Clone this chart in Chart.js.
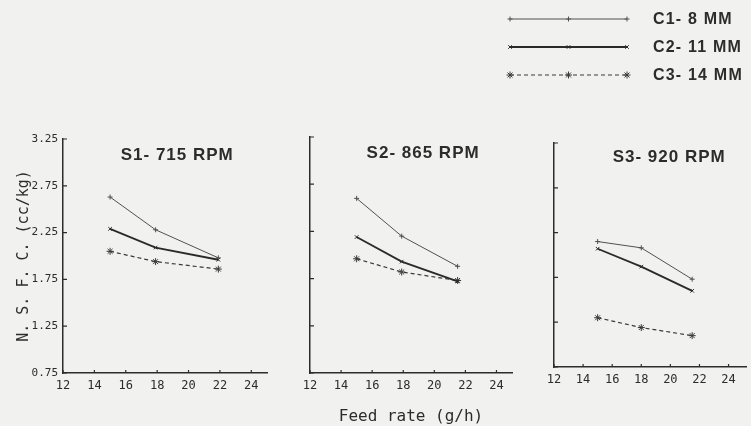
<!DOCTYPE html>
<html>
<head>
<meta charset="utf-8">
<script src="https://cdn.jsdelivr.net/npm/chart.js@4.4.1/dist/chart.umd.min.js"></script>
<style>
  html, body { margin: 0; padding: 0; background: #f1f1ef; }
  #wrap { position: relative; width: 751px; height: 426px; overflow: hidden; background: #f1f1ef; }
  #wrap canvas { position: absolute; top: 0; }
</style>
</head>
<body>
<div id="wrap">
  <canvas id="s1" width="290" height="426" style="left:0"></canvas>
  <canvas id="s2" width="230" height="426" style="left:290px"></canvas>
  <canvas id="s3" width="251" height="426" style="left:500px"></canvas>
</div>
<script>
/* ---- data ---- */
const xTicks = [12, 14, 16, 18, 20, 22, 24];
const yTicks = [0.75, 1.25, 1.75, 2.25, 2.75, 3.25];
const seriesNames = ['C1- 8 MM', 'C2- 11 MM', 'C3- 14 MM'];
const panelTitles = ['S1- 715 RPM', 'S2- 865 RPM', 'S3- 920 RPM'];

// feed rate (g/h) per panel
const s1Feed = [15, 17.9, 21.9];
const s2Feed = [15, 17.9, 21.5];
const s3Feed = [15, 18, 21.5];

// N.S.F.C. (cc/kg)
const s1C1 = [2.63, 2.28, 1.98];
const s1C2 = [2.29, 2.09, 1.96];
const s1C3 = [2.05, 1.94, 1.86];

const s2C1 = [2.60, 2.20, 1.88];
const s2C2 = [2.19, 1.93, 1.72];
const s2C3 = [1.96, 1.82, 1.73];

const s3C1 = [2.15, 2.08, 1.73];
const s3C2 = [2.07, 1.87, 1.60];
const s3C3 = [1.30, 1.19, 1.10];

const INK = '#2c2c2c';
const MONO = "'DejaVu Sans Mono', monospace";
const SANS = "'Liberation Sans', Arial, sans-serif";

// line look for C1, C2, C3
const seriesStyle = [
  { borderColor: '#505050', borderWidth: 1,   borderDash: [],     pointStyle: 'cross',    pointRadius: 2.5 },
  { borderColor: '#2a2a2a', borderWidth: 1.8, borderDash: [],     pointStyle: 'crossRot', pointRadius: 2.5 },
  { borderColor: '#3a3a3a', borderWidth: 1.2, borderDash: [4, 3], pointStyle: 'star',     pointRadius: 3.5 }
];

// small ticks pointing into the plot
const inwardTicks = {
  id: 'inwardTicks',
  afterDraw(chart) {
    const { ctx, chartArea: a } = chart;
    const x = chart.scales.x, y = chart.scales.y;
    ctx.save();
    ctx.strokeStyle = INK;
    ctx.lineWidth = 1.2;
    ctx.beginPath();
    x.ticks.forEach(t => {
      const px = x.getPixelForValue(t.value);
      ctx.moveTo(px, a.bottom);
      ctx.lineTo(px, a.bottom - 3);
    });
    y.ticks.forEach(t => {
      const py = y.getPixelForValue(t.value);
      ctx.moveTo(a.left, py);
      ctx.lineTo(a.left + 4, py);
    });
    ctx.stroke();
    ctx.restore();
  }
};

// panel heading inside the plot area
const panelHeading = {
  id: 'panelHeading',
  afterDraw(chart, args, opts) {
    if (!opts.text) return;
    const { ctx, chartArea: a } = chart;
    ctx.save();
    ctx.font = 'bold 17px ' + SANS;
    ctx.letterSpacing = '1px';
    ctx.fillStyle = INK;
    ctx.textAlign = 'center';
    ctx.textBaseline = 'middle';
    ctx.fillText(opts.text, a.left + opts.fx * (a.right - a.left), a.top + opts.dy);
    ctx.restore();
  }
};

// line-sample legend drawn in the top right corner
const lineLegend = {
  id: 'lineLegend',
  afterDraw(chart, args, opts) {
    if (!opts.show) return;
    const ctx = chart.ctx;
    chart.data.datasets.forEach((ds, i) => {
      const y = opts.top + i * opts.rowGap;
      ctx.save();
      ctx.strokeStyle = ds.borderColor;
      ctx.fillStyle = ds.borderColor;
      ctx.lineWidth = ds.borderWidth;
      ctx.setLineDash(ds.borderDash);
      ctx.beginPath();
      ctx.moveTo(opts.x0, y);
      ctx.lineTo(opts.x1, y);
      ctx.stroke();
      ctx.setLineDash([]);
      ctx.lineWidth = 1;
      [opts.x0, (opts.x0 + opts.x1) / 2, opts.x1].forEach(px => {
        Chart.helpers.drawPoint(ctx, { pointStyle: ds.pointStyle, radius: ds.pointRadius, rotation: 0, borderWidth: 1 }, px, y);
      });
      ctx.font = 'bold 16px ' + SANS;
      ctx.letterSpacing = '1.2px';
      ctx.fillStyle = INK;
      ctx.textAlign = 'left';
      ctx.textBaseline = 'middle';
      ctx.fillText(ds.label, opts.textX, y + 1);
      ctx.restore();
    });
  }
};

function makePanel(id, feed, c1, c2, c3, cfg) {
  const datasets = [c1, c2, c3].map((vals, i) => ({
    label: seriesNames[i],
    data: feed.map((f, j) => ({ x: f, y: vals[j] })),
    borderColor: seriesStyle[i].borderColor,
    backgroundColor: seriesStyle[i].borderColor,
    borderWidth: seriesStyle[i].borderWidth,
    borderDash: seriesStyle[i].borderDash,
    pointStyle: seriesStyle[i].pointStyle,
    pointRadius: seriesStyle[i].pointRadius,
    pointBorderWidth: 1,
    tension: 0
  }));

  return new Chart(document.getElementById(id), {
    type: 'line',
    data: { datasets },
    plugins: [inwardTicks, panelHeading, lineLegend],
    options: {
      responsive: false,
      animation: false,
      events: [],
      layout: { padding: cfg.padding },
      plugins: {
        legend: { display: false },
        tooltip: { enabled: false },
        panelHeading: { text: cfg.title, fx: cfg.titleFx, dy: cfg.titleDy },
        lineLegend: cfg.legend || { show: false }
      },
      scales: {
        x: {
          type: 'linear',
          min: 12,
          max: cfg.xMax,
          afterBuildTicks: s => { s.ticks = xTicks.map(v => ({ value: v })); },
          afterFit: s => { s.height = cfg.xHeight; },
          grid: { display: false, drawTicks: false, tickLength: 0 },
          border: { display: true, color: INK, width: 1.5 },
          ticks: { color: INK, padding: 6, maxRotation: 0, font: { family: MONO, size: 12 } },
          title: {
            display: !!cfg.xTitle,
            text: cfg.xTitle || '',
            color: INK,
            padding: 0,
            font: { family: MONO, size: 16 }
          }
        },
        y: {
          type: 'linear',
          min: 0.75,
          max: 3.25,
          afterBuildTicks: s => { s.ticks = yTicks.map(v => ({ value: v })); },
          afterFit: s => { s.width = cfg.yWidth; },
          grid: { display: false, drawTicks: false, tickLength: 0 },
          border: { display: true, color: INK, width: 1.5 },
          ticks: {
            display: cfg.yLabels,
            color: INK,
            padding: 5,
            font: { family: MONO, size: 11 },
            callback: v => v.toFixed(2)
          },
          title: {
            display: !!cfg.yTitle,
            text: cfg.yTitle || '',
            color: INK,
            padding: { top: 15, bottom: 0 },
            font: { family: MONO, size: 15 }
          }
        }
      }
    }
  });
}

makePanel('s1', s1Feed, s1C1, s1C2, s1C3, {
  padding: { left: 0, right: 23, top: 139, bottom: 0 },
  yWidth: 63, xHeight: 53, xMax: 25.0,
  yLabels: true, yTitle: 'N. S. F. C. (cc/kg)',
  title: panelTitles[0], titleFx: 0.56, titleDy: 16
});

makePanel('s2', s2Feed, s2C1, s2C2, s2C3, {
  padding: { left: 0, right: 8, top: 137, bottom: 0 },
  yWidth: 20, xHeight: 53, xMax: 25.0,
  yLabels: false, xTitle: 'Feed rate (g/h)',
  title: panelTitles[1], titleFx: 0.56, titleDy: 16
});

makePanel('s3', s3Feed, s3C1, s3C2, s3C3, {
  padding: { left: 0, right: 4, top: 143, bottom: 0 },
  yWidth: 54, xHeight: 59, xMax: 25.2,
  yLabels: false,
  title: panelTitles[2], titleFx: 0.60, titleDy: 14,
  legend: { show: true, x0: 10, x1: 127, top: 19, rowGap: 28, textX: 153 }
});
</script>
</body>
</html>
